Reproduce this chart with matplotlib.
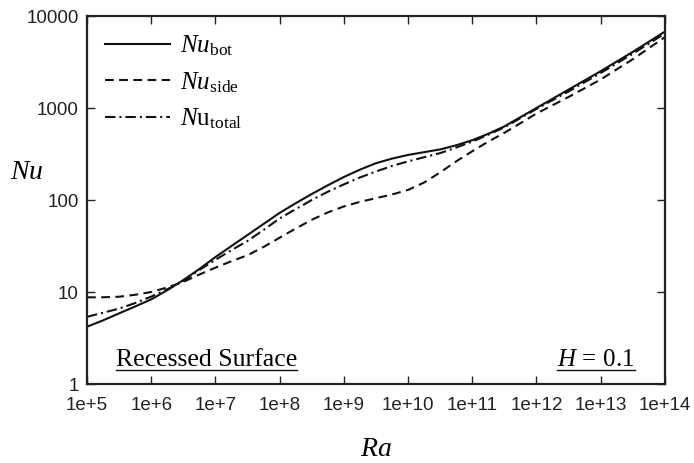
import numpy as np
import matplotlib.pyplot as plt
from matplotlib.ticker import FixedLocator, FuncFormatter
from matplotlib.lines import Line2D

plt.rcParams['font.family'] = ['Liberation Sans', 'DejaVu Sans']
plt.rcParams['mathtext.fontset'] = 'custom'
plt.rcParams['mathtext.rm'] = 'Liberation Serif'
plt.rcParams['mathtext.it'] = 'Liberation Serif:italic'

# Rayleigh number exponents (log10 Ra), quarter-decade steps
log_ra = [5.0, 5.25, 5.5, 5.75, 6.0, 6.25, 6.5, 6.75, 7.0, 7.25, 7.5, 7.75,
          8.0, 8.25, 8.5, 8.75, 9.0, 9.25, 9.5, 9.75, 10.0, 10.25, 10.5, 10.75,
          11.0, 11.25, 11.5, 11.75, 12.0, 12.25, 12.5, 12.75, 13.0, 13.25, 13.5, 13.75, 14.0]

# log10 Nu
log_nu_bot = [0.623, 0.692, 0.768, 0.843, 0.92, 1.02, 1.13, 1.25, 1.38, 1.50, 1.62, 1.74,
              1.86, 1.965, 2.065, 2.16, 2.25, 2.33, 2.40, 2.45, 2.49, 2.52, 2.55, 2.595,
              2.65, 2.72, 2.80, 2.90, 3.00, 3.10, 3.20, 3.30, 3.40, 3.505, 3.61, 3.72, 3.83]
log_nu_side = [0.942, 0.943, 0.949, 0.97, 1.00, 1.05, 1.11, 1.19, 1.265, 1.335, 1.40, 1.49,
               1.59, 1.69, 1.785, 1.865, 1.93, 1.98, 2.02, 2.06, 2.11, 2.19, 2.30, 2.42,
               2.53, 2.635, 2.73, 2.835, 2.94, 3.03, 3.12, 3.215, 3.31, 3.42, 3.53, 3.65, 3.77]
log_nu_total = [0.73, 0.775, 0.82, 0.88, 0.95, 1.03, 1.12, 1.24, 1.35, 1.455, 1.555, 1.675,
                1.80, 1.90, 2.00, 2.09, 2.17, 2.245, 2.31, 2.37, 2.42, 2.465, 2.51, 2.57,
                2.635, 2.71, 2.79, 2.89, 2.99, 3.085, 3.18, 3.28, 3.38, 3.485, 3.59, 3.70, 3.81]

x_ticks = [1e5, 1e6, 1e7, 1e8, 1e9, 1e10, 1e11, 1e12, 1e13, 1e14]
y_ticks = [1, 10, 100, 1000, 10000]

ra = 10.0 ** np.array(log_ra)
nu_bot = 10.0 ** np.array(log_nu_bot)
nu_side = 10.0 ** np.array(log_nu_side)
nu_total = 10.0 ** np.array(log_nu_total)

fig = plt.figure(figsize=(6.94, 4.63), dpi=100)
ax = fig.add_axes([0.1254, 0.1706, 0.958 - 0.1254, 0.9654 - 0.1706])

ax.plot(ra, nu_bot, color='#111111', lw=1.5, linestyle='-', label=r'$Nu_{\mathrm{bot}}$')
ax.plot(ra, nu_side, color='#111111', lw=1.5, linestyle=(0, (4.2, 2.6)), label=r'$Nu_{\mathrm{side}}$')
ax.plot(ra, nu_total, color='#111111', lw=1.5, linestyle=(0, (5.0, 1.9, 1.0, 1.9)),
        label=r'$N\mathrm{u}_{\mathrm{total}}$')

ax.set_xscale('log')
ax.set_yscale('log')
ax.set_xlim(1e5, 1e14)
ax.set_ylim(1, 1e4)

ax.xaxis.set_major_locator(FixedLocator(x_ticks))
ax.yaxis.set_major_locator(FixedLocator(y_ticks))
ax.xaxis.set_minor_locator(FixedLocator([]))
ax.yaxis.set_minor_locator(FixedLocator([]))
ax.xaxis.set_major_formatter(FuncFormatter(lambda v, p: '1e+%d' % round(np.log10(v))))
ax.yaxis.set_major_formatter(FuncFormatter(lambda v, p: '%d' % round(v)))

ax.tick_params(which='major', direction='in', length=6, width=1, top=True, right=True,
               labelsize=13.5, colors='#222222')
ax.tick_params(axis='x', pad=9)
ax.tick_params(axis='y', pad=6)
for s in ax.spines.values():
    s.set_linewidth(1.6)
    s.set_color('#222222')

ax.set_xlabel(r'$Ra$', fontsize=20, labelpad=16)
ax.set_ylabel(r'$Nu$', fontsize=20, rotation=0)
ax.yaxis.set_label_coords(-0.105, 0.54)

t1 = ax.text(0.05, 0.05, 'Recessed Surface', transform=ax.transAxes,
             fontsize=18.5, ha='left', va='baseline', family='Liberation Serif')
t2 = ax.text(0.948, 0.05, r'$H\,=\,\mathrm{0.1}$', transform=ax.transAxes,
             fontsize=18, ha='right', va='baseline')

leg = ax.legend(loc='upper left', frameon=False, fontsize=18, handlelength=2.6,
                handletextpad=0.4, labelspacing=0.48, borderaxespad=0.3,
                bbox_to_anchor=(0.0, 1.0))

# underline the two annotations
fig.canvas.draw()
renderer = fig.canvas.get_renderer()
inv = ax.transAxes.inverted()
for t in (t1, t2):
    bb = t.get_window_extent(renderer)
    y_base = ax.transAxes.transform((0, 0.05))[1] - 4
    (x0, y0), (x1, _) = inv.transform([(bb.x0, y_base), (bb.x1, y_base)])
    ax.add_line(Line2D([x0, x1], [y0, y0], transform=ax.transAxes, color='#111111', lw=1.0))

fig.savefig('out.png', dpi=100)
